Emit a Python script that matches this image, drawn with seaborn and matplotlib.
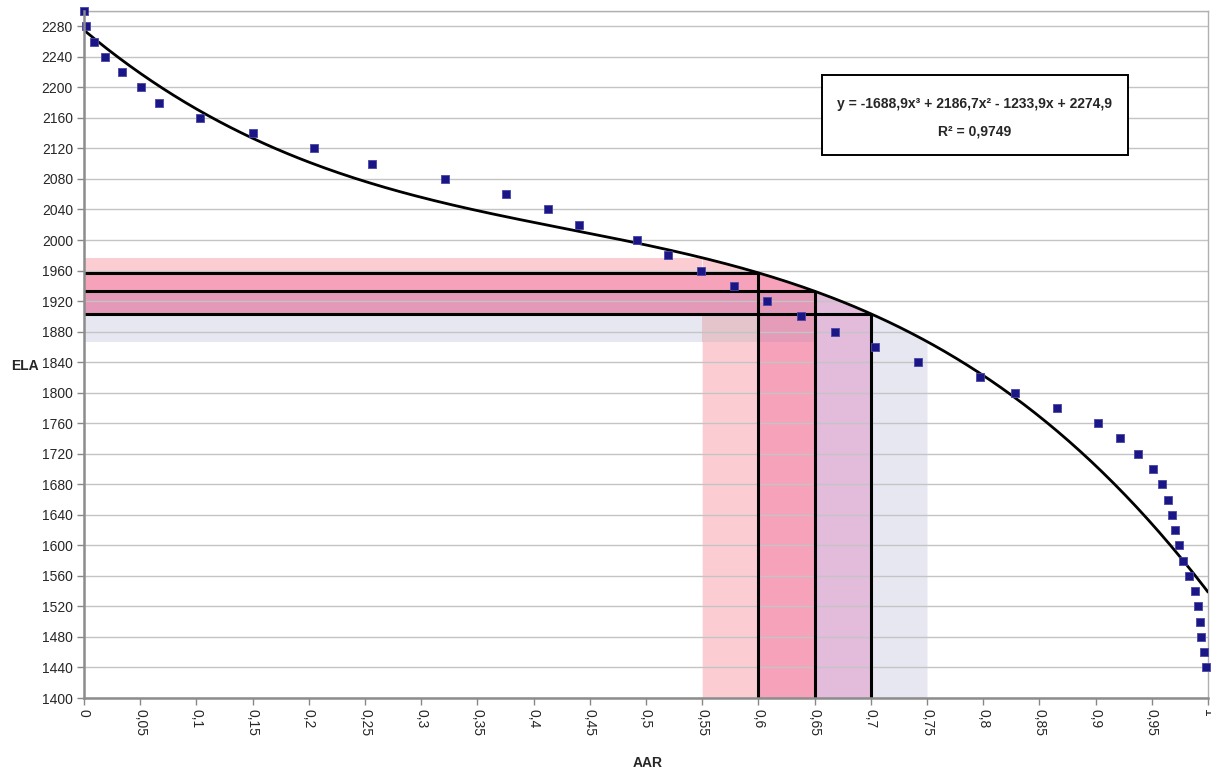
import numpy as np
import pandas as pd
import matplotlib
matplotlib.use("Agg")
import matplotlib.pyplot as plt
import seaborn as sns
from matplotlib.patches import Rectangle

# ---------------- data ----------------
ELA = [2300, 2280, 2260, 2240, 2220, 2200, 2180, 2160, 2140, 2120, 2100, 2080,
       2060, 2040, 2020, 2000, 1980, 1960, 1940, 1920, 1900, 1880, 1860, 1840,
       1820, 1800, 1780, 1760, 1740, 1720, 1700, 1680, 1660, 1640, 1620, 1600,
       1580, 1560, 1540, 1520, 1500, 1480, 1460, 1440]
AAR = [0.000, 0.002, 0.009, 0.019, 0.034, 0.051, 0.067, 0.103, 0.150, 0.205,
       0.256, 0.321, 0.375, 0.413, 0.440, 0.492, 0.520, 0.549, 0.578, 0.608,
       0.638, 0.668, 0.704, 0.742, 0.797, 0.828, 0.866, 0.902, 0.922, 0.938,
       0.951, 0.959, 0.964, 0.968, 0.971, 0.974, 0.978, 0.983, 0.988, 0.991,
       0.993, 0.994, 0.996, 0.998]
# polynomial trendline coefficients (highest power first)
POLY_COEF = [-1688.9, 2186.7, -1233.9, 2274.9]
EQ_TEXT = "y = -1688,9x³ + 2186,7x² - 1233,9x + 2274,9"
R2_TEXT = "R² = 0,9749"
# AAR range boundaries for shaded bands
AAR_BOUNDS = [0.55, 0.60, 0.65, 0.70, 0.75]
# AAR values marked with black lines
AAR_MARKED = [0.60, 0.65, 0.70]
X_TICKS = [0, 0.05, 0.1, 0.15, 0.2, 0.25, 0.3, 0.35, 0.4, 0.45, 0.5, 0.55, 0.6,
           0.65, 0.7, 0.75, 0.8, 0.85, 0.9, 0.95, 1.0]
X_TICK_LABELS = ["0", "0,05", "0,1", "0,15", "0,2", "0,25", "0,3", "0,35", "0,4",
                 "0,45", "0,5", "0,55", "0,6", "0,65", "0,7", "0,75", "0,8",
                 "0,85", "0,9", "0,95", "1"]
Y_TICKS = list(range(1400, 2281, 40))

# ---------------- style ----------------
sns.set_theme(style="white")
plt.rcParams['font.family'] = ['Liberation Sans', 'DejaVu Sans']

LP = '#FBCDD2'   # light pink
PK = '#F6A2BB'   # pink
MV = '#E399B7'   # mauve
LL = '#E3BBDB'   # lilac
LV = '#E6E7F1'   # lavender
GP = '#E4C5CC'   # light pink under lavender
PV = '#E49CB8'   # pink under lavender
COL_COLORS = [LP, PK, LL, LV]
STRIP_COLORS = [LP, PK, MV, LV]

fig = plt.figure(figsize=(12.11, 7.76), dpi=100)
ax = fig.add_axes([84 / 1211, 1 - 698 / 776, 1124 / 1211, 687 / 776])

f = lambda x: np.polyval(POLY_COEF, x)
yb = [f(a) for a in AAR_BOUNDS]
ymin = 1400

# columns (from bottom to the curve)
for i in range(4):
    xs = np.linspace(AAR_BOUNDS[i], AAR_BOUNDS[i + 1], 60)
    ax.fill_between(xs, ymin, f(xs), color=COL_COLORS[i], lw=0, zorder=1)
# strips (from x=0 to first bound)
for i in range(4):
    ax.fill_between([0, AAR_BOUNDS[0]], yb[i + 1], yb[i], color=STRIP_COLORS[i], lw=0, zorder=1)
# intersection cells
cells = [
    (0, 1, PK), (0, 2, MV), (0, 3, GP),
    (1, 2, MV), (1, 3, PV),
]
for c, s, colr in cells:
    ax.fill_between([AAR_BOUNDS[c], AAR_BOUNDS[c + 1]], yb[s + 1], yb[s], color=colr, lw=0, zorder=1)

# black marker lines
for a in AAR_MARKED:
    ax.plot([a, a], [ymin, f(a)], color='black', lw=2.2, zorder=2, solid_capstyle='butt')
    ax.plot([0, a], [f(a), f(a)], color='black', lw=2.2, zorder=2, solid_capstyle='butt')

# trendline
xt = np.linspace(0, 1, 300)
trend = pd.DataFrame({'AAR': xt, 'ELA': f(xt)})
sns.lineplot(data=trend, x='AAR', y='ELA', color='black', lw=2.0, ax=ax, zorder=3)

# data points
df = pd.DataFrame({'AAR': AAR, 'ELA': ELA})
sns.scatterplot(data=df, x='AAR', y='ELA', marker='s', s=38, color='#1B1685',
                edgecolor='#4A46A8', linewidth=0.6, ax=ax, zorder=4, clip_on=False)

ax.set_xlim(0, 1)
ax.set_ylim(1400, 2300)
ax.set_axisbelow('line')
ax.yaxis.grid(True, color='#C4C4C4', lw=1.0, zorder=1.5)
ax.xaxis.grid(False)
ax.axhline(2300, color='#C4C4C4', lw=1.0, zorder=1.5)

ax.set_xticks(X_TICKS)
ax.set_xticklabels(X_TICK_LABELS, rotation=270, fontsize=10)
ax.set_yticks(Y_TICKS)
ax.set_yticklabels([str(v) for v in Y_TICKS], fontsize=10)
ax.tick_params(axis='both', which='major', length=5, width=1, color='#888888',
               direction='out', bottom=True, left=True, pad=3)

for side in ['left', 'bottom']:
    ax.spines[side].set_color('#8C8C8C')
    ax.spines[side].set_linewidth(1.8)
    ax.spines[side].set_zorder(5)
for side in ['top', 'right']:
    ax.spines[side].set_color('#B0B0B0')
    ax.spines[side].set_linewidth(1.0)

ax.set_xlabel('')
ax.set_ylabel('')
fig.text(25 / 1211, 1 - 366 / 776, 'ELA', fontsize=10, fontweight='bold', ha='center', va='center')
fig.text(648 / 1211, 1 - 763 / 776, 'AAR', fontsize=10, fontweight='bold', ha='center', va='center')

# equation box
ax.add_patch(Rectangle((0.6566, 0.7904), 0.9288 - 0.6566, 0.9068 - 0.7904,
                       transform=ax.transAxes, facecolor='white', edgecolor='black',
                       lw=1.4, zorder=6))
ax.text(0.7927, 0.8646, EQ_TEXT, transform=ax.transAxes, ha='center', va='center',
        fontsize=10, fontweight='bold', zorder=7)
ax.text(0.7927, 0.8239, R2_TEXT, transform=ax.transAxes, ha='center', va='center',
        fontsize=10, fontweight='bold', zorder=7)

if ax.get_legend():
    ax.get_legend().remove()

fig.savefig('out.png', dpi=100, facecolor='white')
